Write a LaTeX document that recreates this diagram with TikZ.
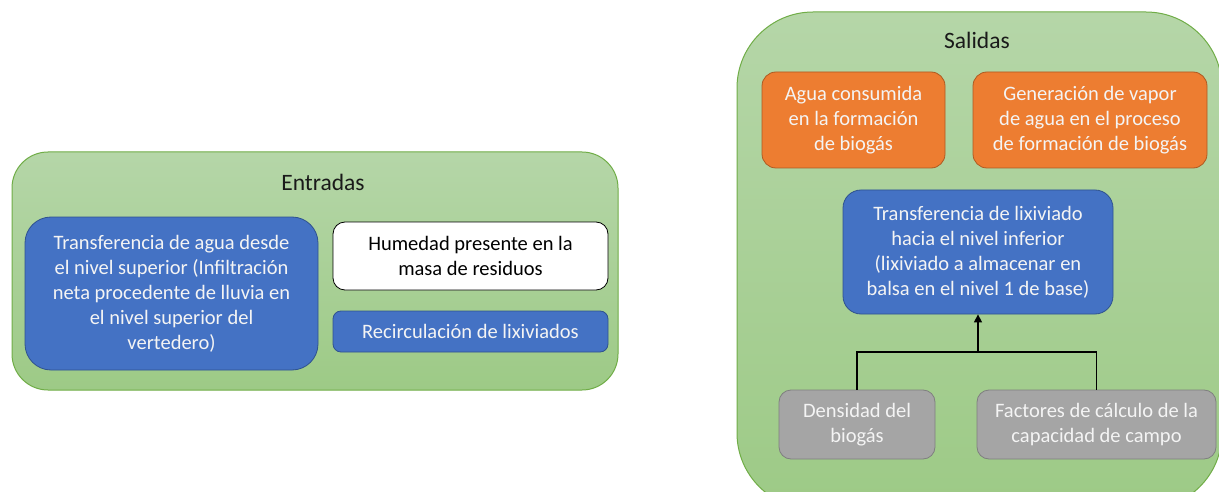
\documentclass[tikz,border=0pt]{standalone}
\usepackage{fontspec}
\setmainfont{Carlito}
\usetikzlibrary{arrows.meta}
\definecolor{cblue}{HTML}{4472C4}
\definecolor{cblueb}{HTML}{2F528F}
\definecolor{corange}{HTML}{ED7D31}
\definecolor{coranb}{HTML}{AE5A21}
\definecolor{cgray}{HTML}{A5A5A5}
\definecolor{cgrayb}{HTML}{7F7F7F}
\definecolor{cgtop}{HTML}{B5D6A8}
\definecolor{cgbot}{HTML}{9DCA86}
\definecolor{cgborder}{HTML}{70AD47}
\definecolor{ctxt}{HTML}{1A1A1A}
\definecolor{ltxt}{HTML}{F4F4F4}
\tikzset{
  container/.style={draw=cgborder, line width=1pt, top color=cgtop, bottom color=cgbot, inner sep=0pt},
  boxtext/.style={font=\fontsize{20.5}{25}\selectfont, align=center, inner sep=0pt},
  bluebox/.style={boxtext, draw=cblueb, fill=cblue, text=ltxt, line width=0.8pt},
  orangebox/.style={boxtext, draw=coranb, fill=corange, text=ltxt, line width=0.8pt, rounded corners=14pt},
  graybox/.style={boxtext, draw=cgrayb, fill=cgray, text=ltxt, line width=0.8pt, rounded corners=12pt},
  whitebox/.style={boxtext, draw=black, fill=white, text=black, line width=0.8pt, rounded corners=12pt},
  title/.style={font=\fontsize{23.5}{28}\selectfont, text=ctxt, inner sep=0pt},
  conn/.style={draw=black, line width=1.3pt}
}
\begin{document}
\begin{tikzpicture}[x=1pt,y=-1pt]
\useasboundingbox (0,0) rectangle (1219,492);
\clip (0,0) rectangle (1219,492);
\fill[white] (0,0) rectangle (1219,492);
% Entradas
\node[container, rounded corners=36pt, minimum width=606pt, minimum height=238pt] (entradas) at (315,271) {};
\node[title] (tent) at (323,182) {Entradas};
\node[bluebox, rounded corners=26pt, minimum width=293pt, minimum height=153pt] (transagua) at (171.5,293.5)
  {Transferencia de agua desde\\el nivel superior (Infiltración\\neta procedente de lluvia en\\el nivel superior del\\vertedero)};
\node[whitebox, minimum width=275pt, minimum height=68pt] (humedad) at (470.5,256)
  {Humedad presente en la\\masa de residuos};
\node[bluebox, rounded corners=8pt, minimum width=275pt, minimum height=41pt] (recirc) at (470.5,331.5)
  {Recirculación de lixiviados};
% Salidas
\node[container, rounded corners=76pt, minimum width=485pt, minimum height=497pt] (salidas) at (979.5,260.5) {};
\node[title] (tsal) at (977,40) {Salidas};
\node[orangebox, minimum width=183pt, minimum height=96pt] (aguacons) at (853.5,120)
  {Agua consumida\\en la formación\\de biogás};
\node[orangebox, minimum width=234pt, minimum height=96pt] (vapor) at (1090,120)
  {Generación de vapor\\de agua en el proceso\\de formación de biogás};
\node[bluebox, rounded corners=18pt, minimum width=270pt, minimum height=124pt] (translix) at (978,252)
  {Transferencia de lixiviado\\hacia el nivel inferior\\(lixiviado a almacenar en\\balsa en el nivel 1 de base)};
\node[graybox, minimum width=156pt, minimum height=69pt] (densidad) at (857,424.5)
  {Densidad del\\biogás};
\node[graybox, minimum width=239pt, minimum height=69pt] (factores) at (1096.5,424.5)
  {Factores de cálculo de la\\capacidad de campo};
\coordinate (junc) at (978,352);
\draw[conn] (densidad.north) |- (junc) -| (factores.north);
\draw[conn, -{Triangle[length=8pt,width=8pt]}] (junc) -- (translix.south);
\end{tikzpicture}
\end{document}
